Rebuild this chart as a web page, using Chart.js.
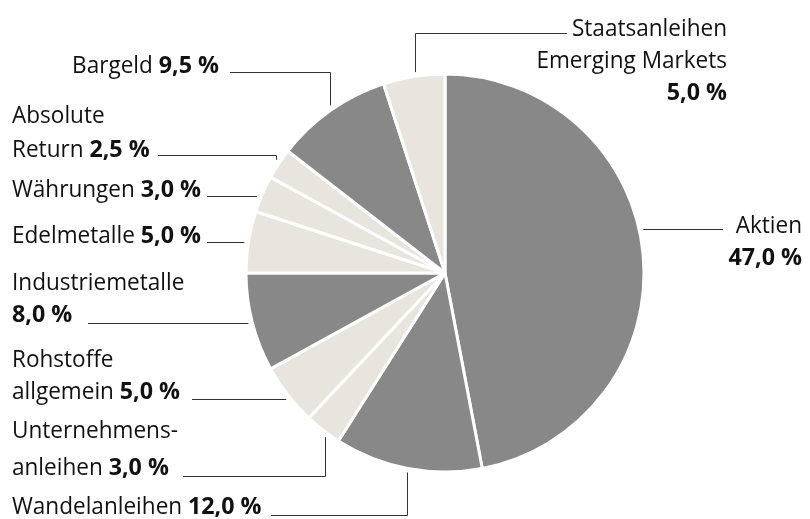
<!DOCTYPE html>
<html>
<head>
<meta charset="utf-8">
<script src="https://cdn.jsdelivr.net/npm/chart.js@4.4.0/dist/chart.umd.min.js"></script>
<style>
  html, body { margin: 0; padding: 0; background: #fff; }
  #wrap { width: 810px; height: 519px; }
</style>
</head>
<body>
<div id="wrap"><canvas id="chartPie"></canvas></div>
<script>
// data
const categories = [
  "Aktien", "Wandelanleihen", "Unternehmensanleihen", "Rohstoffe allgemein",
  "Industriemetalle", "Edelmetalle", "Währungen", "Absolute Return",
  "Bargeld", "Staatsanleihen Emerging Markets"
];
const shares = [47.0, 12.0, 3.0, 5.0, 8.0, 5.0, 3.0, 2.5, 9.5, 5.0];
const dark = [true, true, false, false, true, false, false, false, true, false];

const DARK = "#878887";
const LIGHT = "#e8e5de";
const FONT = "'Open Sans', sans-serif";
const FS = 24;
// squeeze text a bit, the original face is narrower
const SX_REG = 0.94;
const SX_BOLD = 0.97;

const fmt = (v) => v.toFixed(1).replace(".", ",") + " %";

// label layout: text lines ("{v}" = bold value), anchor and leader line
// line starts near the text, optional elbow x, end is found on the pie edge
const labelLayout = [
  { lines: ["Aktien", "{v}"], align: "right", x: 802, base: [233, 265], line: { y: 229, x: 723 } },
  { lines: ["Wandelanleihen {v}"], align: "left", x: 12, base: [514], line: { y: 515, x: 271, elbow: 407 } },
  { lines: ["Unternehmens-", "anleihen {v}"], align: "left", x: 12, base: [438, 475], line: { y: 476, x: 183, elbow: 325 } },
  { lines: ["Rohstoffe", "allgemein {v}"], align: "left", x: 12, base: [367, 399], line: { y: 399, x: 192 } },
  { lines: ["Industriemetalle", "{v}"], align: "left", x: 12, base: [290, 322], line: { y: 323, x: 88 } },
  { lines: ["Edelmetalle {v}"], align: "left", x: 12, base: [243], line: { y: 242, x: 207 } },
  { lines: ["Währungen {v}"], align: "left", x: 12, base: [197], line: { y: 196, x: 207 } },
  { lines: ["Absolute", "Return {v}"], align: "left", x: 12, base: [123, 157], line: { y: 155, x: 158, elbow: 276 } },
  { lines: ["Bargeld {v}"], align: "right", x: 219, base: [73], line: { y: 72, x: 230, elbow: 330 } },
  { lines: ["Staatsanleihen", "Emerging Markets", "{v}"], align: "right", x: 727, base: [36, 68, 100], line: { y: 33, x: 567, elbow: 415 } },
];

function drawRich(ctx, text, value, x, y, align) {
  const parts = [];
  const idx = text.indexOf("{v}");
  if (idx < 0) parts.push([text, false]);
  else {
    if (idx > 0) parts.push([text.slice(0, idx), false]);
    parts.push([fmt(value), true]);
  }
  const fontOf = (b) => (b ? "bold " : "") + FS + "px " + FONT;
  const sx = (b) => (b ? SX_BOLD : SX_REG);
  let total = 0;
  parts.forEach(([t, b]) => { ctx.font = fontOf(b); total += ctx.measureText(t).width * sx(b); });
  let cx = align === "right" ? x - total : x;
  parts.forEach(([t, b]) => {
    ctx.font = fontOf(b);
    ctx.save();
    ctx.translate(cx, y);
    ctx.scale(sx(b), 1);
    ctx.fillText(t, 0, 0);
    ctx.restore();
    cx += ctx.measureText(t).width * sx(b);
  });
}

const labelPlugin = {
  id: "pieLabels",
  afterDraw(chart) {
    const ctx = chart.ctx;
    const arc = chart.getDatasetMeta(0).data[0];
    const cx = arc.x, cy = arc.y;
    const rEdge = arc.outerRadius + 4;
    ctx.save();
    ctx.fillStyle = "#111";
    ctx.textBaseline = "alphabetic";
    ctx.textAlign = "left";
    labelLayout.forEach((lab, i) => {
      lab.lines.forEach((ln, k) => drawRich(ctx, ln, shares[i], lab.x, lab.base[k], lab.align));
      const L = lab.line;
      ctx.strokeStyle = "#333";
      ctx.lineWidth = 1;
      ctx.beginPath();
      const y = Math.round(L.y) + 0.5;
      ctx.moveTo(L.x, y);
      if (L.elbow !== undefined) {
        const ex = Math.round(L.elbow) + 0.5;
        const dx = ex - cx;
        const h = Math.sqrt(Math.max(0, rEdge * rEdge - dx * dx));
        const endY = y < cy ? cy - h : cy + h;
        ctx.lineTo(ex, y);
        ctx.lineTo(ex, endY);
      } else {
        const dy = y - cy;
        const w = Math.sqrt(Math.max(0, rEdge * rEdge - dy * dy));
        const endX = L.x < cx ? cx - w : cx + w;
        ctx.lineTo(endX, y);
      }
      ctx.stroke();
    });
    ctx.restore();
  },
};

const ctxPie = document.getElementById("chartPie").getContext("2d");
const pieChart = new Chart(ctxPie, {
  type: "pie",
  data: {
    labels: categories,
    datasets: [
      {
        data: shares,
        backgroundColor: dark.map((d) => (d ? DARK : LIGHT)),
        borderColor: "#ffffff",
        borderWidth: 3,
      },
    ],
  },
  options: {
    responsive: true,
    maintainAspectRatio: false,
    animation: false,
    radius: 199,
    layout: { padding: { left: 80, right: 0, top: 27, bottom: 0 } },
    plugins: {
      legend: { display: false },
      tooltip: { enabled: false },
    },
  },
  plugins: [labelPlugin],
});
</script>
</body>
</html>
